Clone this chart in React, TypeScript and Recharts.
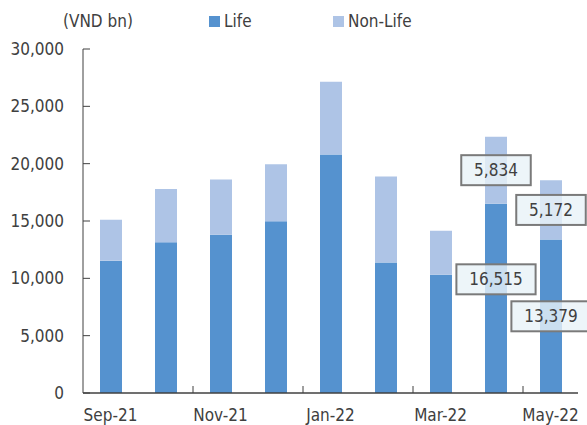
import { Bar, BarChart, LabelList, XAxis, YAxis } from 'recharts';

const MONTHS = ['Sep-21', 'Oct-21', 'Nov-21', 'Dec-21', 'Jan-22', 'Feb-22', 'Mar-22', 'Apr-22', 'May-22'];
const LIFE = [11540, 13140, 13790, 14980, 20810, 11390, 10310, 16515, 13379];
const NON_LIFE = [3570, 4650, 4820, 4980, 6340, 7490, 3830, 5834, 5172];
const Y_TICKS = [0, 5000, 10000, 15000, 20000, 25000, 30000];
const LABELLED = ['Apr-22', 'May-22'];

const FONT = '"DejaVu Sans Condensed", "DejaVu Sans", sans-serif';
const TEXT = '#404040';
const AXIS = '#404040';
const LIFE_COLOR = '#5592cf';
const NON_LIFE_COLOR = '#aec4e6';

const W = 587;
const H = 425;
const LEFT = 83;
const RIGHT = 9;
const BAND = (W - LEFT - RIGHT) / MONTHS.length;

const data = MONTHS.map((month, i) => ({
  month,
  life: LIFE[i],
  nonLife: NON_LIFE[i],
}));

const fmt = (v: number) => v.toLocaleString('en-US');

function YTick({ x, y, payload }: any) {
  return (
    <g>
      <line x1={x} x2={x + 7} y1={y} y2={y} stroke={AXIS} strokeWidth={1} />
      <text x={x - 19} y={y} dy={6} textAnchor="end" fill={TEXT} fontSize={17} fontFamily={FONT}>
        {fmt(payload.value)}
      </text>
    </g>
  );
}

function XTick({ x, y, payload, index }: any) {
  if (index % 2 !== 0) return null;
  // y arrives with the default tick size + margin (8px) below the axis
  const axisY = y - 8;
  return (
    <g>
      {index > 0 && (
        <line x1={x - BAND / 2} x2={x - BAND / 2} y1={axisY} y2={axisY - 7} stroke={AXIS} strokeWidth={1} />
      )}
      <text x={x} y={axisY} dy={28} textAnchor="middle" fill={TEXT} fontSize={17} fontFamily={FONT}>
        {payload.value}
      </text>
    </g>
  );
}

// boxed value labels, only on the last two months
function makeBoxLabel(shiftFor: Record<number, number>) {
  return function BoxLabel({ x, y, width, height, value, index }: any) {
    if (!LABELLED.includes(MONTHS[index])) return null;
    const text = fmt(value);
    const boxW = text.length * 9.7 + 21;
    const boxH = 30;
    const cx = x + width / 2;
    const cy = y + height / 2 + (shiftFor[index] ?? 0);
    return (
      <g>
        <rect
          x={cx - boxW / 2}
          y={cy - boxH / 2}
          width={boxW}
          height={boxH}
          fill="#e9f2f8"
          fillOpacity={0.8}
          stroke="#7a7a7a"
          strokeWidth={2}
        />
        <text x={cx} y={cy} dy={6} textAnchor="middle" fill={TEXT} fontSize={17} fontFamily={FONT}>
          {text}
        </text>
      </g>
    );
  };
}

const LifeLabel = makeBoxLabel({ 7: -19 });
const NonLifeLabel = makeBoxLabel({});

export default function App() {
  return (
    <div style={{ position: 'absolute', left: 0, top: 0, width: W, height: H, background: '#fff', fontFamily: FONT }}>
      <div style={{ position: 'absolute', left: 63, top: 11, fontSize: 17, color: TEXT }}>(VND bn)</div>
      <div style={{ position: 'absolute', left: 209, top: 11, display: 'flex', alignItems: 'center', fontSize: 17, color: TEXT }}>
        <span style={{ width: 11, height: 11, background: LIFE_COLOR, marginRight: 4 }} />
        Life
      </div>
      <div style={{ position: 'absolute', left: 333, top: 11, display: 'flex', alignItems: 'center', fontSize: 17, color: TEXT }}>
        <span style={{ width: 11, height: 11, background: NON_LIFE_COLOR, marginRight: 4 }} />
        Non-Life
      </div>
      <BarChart width={W} height={H} data={data} margin={{ top: 49, right: RIGHT, bottom: 0, left: 0 }} barSize={22}>
        <XAxis
          dataKey="month"
          interval={0}
          height={32}
          tickLine={false}
          tick={<XTick />}
          axisLine={{ stroke: AXIS, strokeWidth: 1.5 }}
        />
        <YAxis
          width={LEFT}
          domain={[0, 30000]}
          ticks={Y_TICKS}
          tickSize={0}
          tickMargin={0}
          tickLine={false}
          tick={<YTick />}
          axisLine={{ stroke: AXIS, strokeWidth: 1 }}
        />
        <Bar dataKey="life" stackId="a" fill={LIFE_COLOR} isAnimationActive={false}>
          <LabelList dataKey="life" content={<LifeLabel />} />
        </Bar>
        <Bar dataKey="nonLife" stackId="a" fill={NON_LIFE_COLOR} isAnimationActive={false}>
          <LabelList dataKey="nonLife" content={<NonLifeLabel />} />
        </Bar>
      </BarChart>
    </div>
  );
}
